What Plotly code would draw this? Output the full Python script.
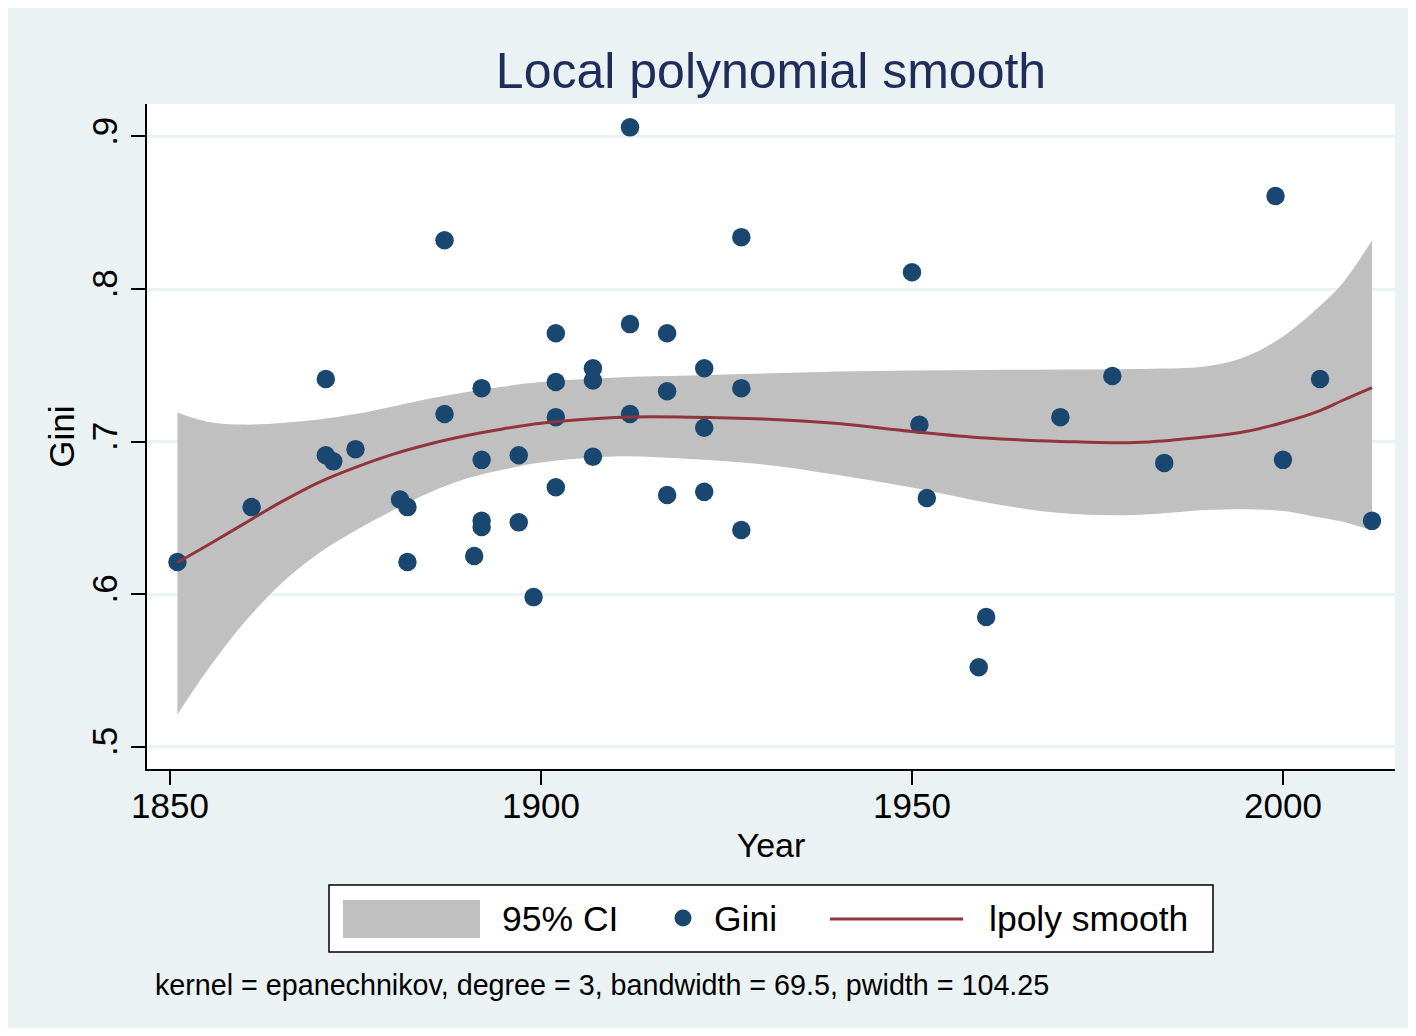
"""
Local polynomial smooth of Gini by year (Stata lpoly style) rebuilt with Plotly.
"""

import plotly.graph_objects as go

# ---- data -----------------------------------------------------------------
year = [1851, 1861, 1871, 1871, 1872, 1875, 1881, 1882, 1882, 1887, 1887,
        1891, 1892, 1892, 1892, 1892, 1897, 1897, 1899, 1902, 1902, 1902,
        1902, 1907, 1907, 1907, 1912, 1912, 1912, 1917, 1917, 1917, 1922,
        1922, 1922, 1927, 1927, 1927, 1950, 1951, 1952, 1959, 1960, 1970,
        1977, 1984, 1999, 2000, 2005, 2012]
gini = [0.621, 0.657, 0.741, 0.691, 0.687, 0.695, 0.662, 0.657, 0.621, 0.832,
        0.718, 0.625, 0.735, 0.688, 0.648, 0.644, 0.691, 0.647, 0.598, 0.771,
        0.739, 0.716, 0.670, 0.748, 0.740, 0.690, 0.906, 0.777, 0.718, 0.771,
        0.733, 0.665, 0.748, 0.709, 0.667, 0.834, 0.735, 0.642, 0.811, 0.711,
        0.663, 0.552, 0.585, 0.716, 0.743, 0.686, 0.861, 0.688, 0.741, 0.648]

grid_year = [1851, 1855, 1860, 1865, 1870, 1875, 1880, 1885, 1890, 1895,
             1900, 1910, 1920, 1930, 1940, 1950, 1960, 1970, 1980, 1990,
             1995, 2000, 2005, 2008, 2012]
smooth = [0.6207, 0.6318, 0.6462, 0.6604, 0.6731, 0.6831, 0.6916, 0.6984,
          0.7039, 0.7084, 0.7120, 0.7158, 0.7160, 0.7148, 0.7118, 0.7066,
          0.7023, 0.7001, 0.6993, 0.7033, 0.7066, 0.7125, 0.7203, 0.7269,
          0.7354]
ci_upper = [0.719, 0.713, 0.7111, 0.7121, 0.7144, 0.718, 0.723, 0.7282,
            0.7325, 0.7361, 0.739, 0.742, 0.7433, 0.7446, 0.7459, 0.7466,
            0.7469, 0.7472, 0.7475, 0.7495, 0.7557, 0.7689, 0.789, 0.8036,
            0.8318]
ci_lower = [0.521, 0.5498, 0.5813, 0.607, 0.6266, 0.6416, 0.6548, 0.6666,
            0.6757, 0.6816, 0.6862, 0.6902, 0.6885, 0.6849, 0.678, 0.6698,
            0.660, 0.6531, 0.6518, 0.6552, 0.6556, 0.6545, 0.6502, 0.6475,
            0.6416]

x_ticks = [1850, 1900, 1950, 2000]
y_ticks = [0.5, 0.6, 0.7, 0.8, 0.9]
y_tick_text = [".5", ".6", ".7", ".8", ".9"]

NOTE = "kernel = epanechnikov, degree = 3, bandwidth = 69.5, pwidth = 104.25"

# ---- styling ---------------------------------------------------------------
FONT = "Liberation Sans, Arial, Helvetica, sans-serif"
BG = "#EAF2F3"
NAVY = "#1a476f"
MAROON = "#90353b"
CI_GRAY = "#c0c0c0"

W, H = 1400, 1020
M_L, M_R, M_T, M_B = 139, 13, 96, 259
PW, PH = W - M_L - M_R, H - M_T - M_B


def px(x):
    """page pixel x -> paper x"""
    return (x - 8 - M_L) / PW


def py(y):
    """page pixel y -> paper y"""
    return (H - M_B - (y - 8)) / PH


fig = go.Figure()

fig.add_trace(go.Scatter(
    x=grid_year, y=ci_lower, mode="lines", line=dict(width=0, shape="spline"),
    hoverinfo="skip", showlegend=False,
))
fig.add_trace(go.Scatter(
    x=grid_year, y=ci_upper, mode="lines", line=dict(width=0, shape="spline"),
    fill="tonexty", fillcolor=CI_GRAY, name="95% CI", showlegend=False,
))
fig.add_trace(go.Scatter(
    x=year, y=gini, mode="markers", name="Gini",
    marker=dict(size=18.5, color=NAVY, line=dict(width=0)),
    showlegend=False,
))
fig.add_trace(go.Scatter(
    x=grid_year, y=smooth, mode="lines", name="lpoly smooth",
    line=dict(color=MAROON, width=3, shape="spline"),
    showlegend=False,
))

# legend drawn by hand (Stata style box)
shapes = [
    dict(type="rect", xref="paper", yref="paper",
         x0=px(329), x1=px(1213), y0=py(952), y1=py(885),
         line=dict(color="black", width=1.5), fillcolor="white", layer="below"),
    dict(type="rect", xref="paper", yref="paper",
         x0=px(343), x1=px(480), y0=py(938), y1=py(900),
         line=dict(width=0), fillcolor=CI_GRAY),
    dict(type="circle", xref="paper", yref="paper",
         x0=px(674.5), x1=px(691.5), y0=py(926.5), y1=py(909.5),
         line=dict(width=0), fillcolor=NAVY),
    dict(type="line", xref="paper", yref="paper",
         x0=px(830), x1=px(963), y0=py(919), y1=py(919),
         line=dict(color=MAROON, width=3)),
]
annotations = [
    dict(text="95% CI", x=px(500), y=py(919)),
    dict(text="Gini", x=px(712), y=py(919)),
    dict(text="lpoly smooth", x=px(987), y=py(919)),
]
annotations = [dict(a, xref="paper", yref="paper", xanchor="left",
                    yanchor="middle", showarrow=False,
                    font=dict(size=35.5, color="black", family=FONT))
               for a in annotations]
annotations.append(dict(
    text=NOTE, x=px(153), y=py(985), xref="paper", yref="paper",
    xanchor="left", yanchor="middle", showarrow=False,
    font=dict(size=28.7, color="black", family=FONT),
))

fig.update_layout(
    width=W, height=H,
    margin=dict(l=M_L, r=M_R, t=M_T, b=M_B, pad=0),
    paper_bgcolor=BG, plot_bgcolor="white",
    font=dict(family=FONT, color="black", size=35),
    title=dict(text="Local polynomial smooth", x=0.5, xref="paper",
               xanchor="center", y=1 - 62 / H, yanchor="middle",
               yref="container",
               font=dict(size=50, color="#1e2d5a", family=FONT)),
    shapes=shapes, annotations=annotations,
    showlegend=False,
)
fig.update_xaxes(
    range=[1846.9, 2015.1], tickvals=x_ticks,
    showgrid=False, zeroline=False,
    showline=True, linecolor="black", linewidth=1.5,
    ticks="outside", ticklen=14, tickwidth=1.5, tickcolor="black",
    tickfont=dict(size=35), ticklabelstandoff=-9,
    title=dict(text="Year", font=dict(size=34), standoff=9),
)
fig.update_yaxes(
    range=[0.4853, 0.9213], tickvals=y_ticks, ticktext=y_tick_text,
    tickangle=-90,
    showgrid=True, gridcolor=BG, gridwidth=2.5, zeroline=False,
    showline=True, linecolor="black", linewidth=1.5,
    ticks="outside", ticklen=14, tickwidth=1.5, tickcolor="black",
    tickfont=dict(size=35),
    title=dict(text="Gini", font=dict(size=35), standoff=0),
)

fig.write_html("out.html")
